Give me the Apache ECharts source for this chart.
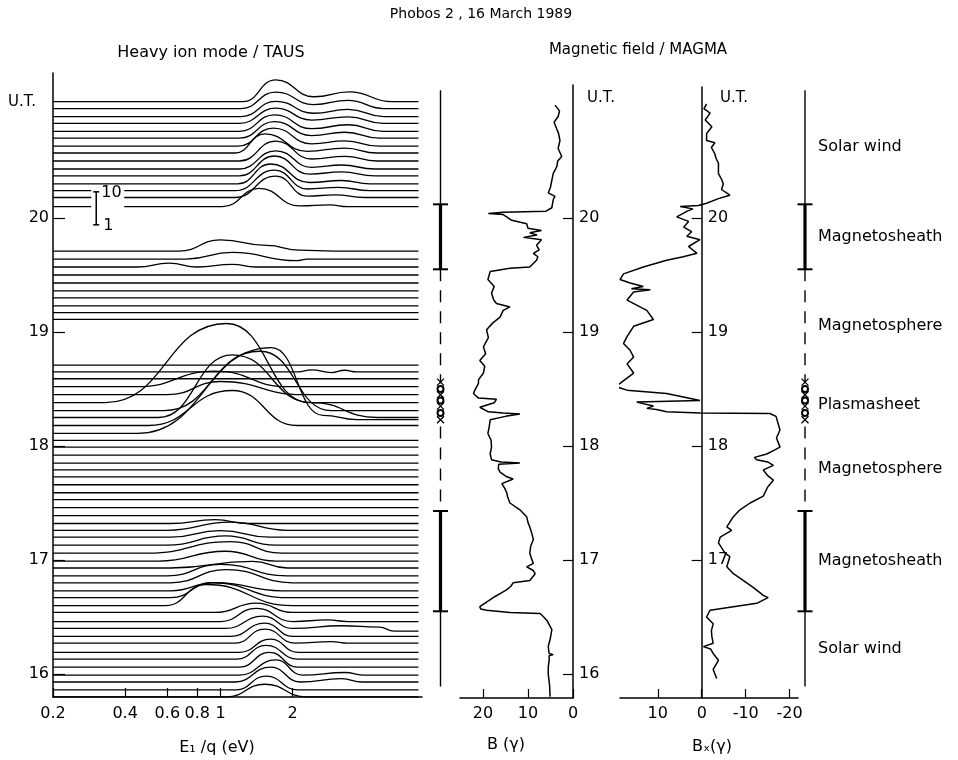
<!DOCTYPE html>
<html><head><meta charset="utf-8">
<script src="https://cdn.jsdelivr.net/npm/echarts@6/dist/echarts.min.js"></script>
<style>html,body{margin:0;padding:0;background:#fff}#c{width:958px;height:760px}</style>
</head><body><div id="c"></div>
<script>
const FONT = 'DejaVu Sans';

// ---------------- DATA ----------------
// Heavy ion spectra (TAUS): baseline time (UT hours) of each stacked trace
const ionTimes = [15.80, 15.86, 15.93, 15.99, 16.06, 16.13, 16.19, 16.27, 16.33, 16.40, 16.46, 16.54, 16.60, 16.67, 16.73, 16.80, 16.86, 16.93, 16.99, 17.06, 17.13, 17.20, 17.26, 17.32, 17.39, 17.46, 17.53, 17.59, 17.66, 17.73, 17.79, 17.85, 17.92, 17.99, 18.05, 18.11, 18.18, 18.25, 18.31, 18.38, 18.45, 18.52, 18.59, 18.65, 18.71,
  19.11, 19.17, 19.23, 19.30, 19.36, 19.43, 19.50, 19.57, 19.64, 19.71,
  20.10, 20.18, 20.24, 20.30, 20.37, 20.43, 20.50, 20.57, 20.63, 20.70, 20.76, 20.83, 20.89, 20.96, 21.02];
// per trace: [energy (eV), count height in decades above baseline]; empty = flat
const ionSpectra = [
  [[1.06,0],[1.53,0.38],[2.28,0]],
  [[1.16,0],[1.55,0.42],[2.1,0]],
  [[1.15,0],[1.62,0.45],[2.15,0],[3.2,0.1],[3.9,0]],
  [[1.2,0],[1.7,0.46],[2.2,0],[3.3,0.08],[4.0,0]],
  [[1.2,0],[1.6,0.45],[2.1,0]],
  [[1.17,0],[1.55,0.42],[2.1,0]],
  [[1.2,0],[1.62,0.4],[2.1,0]],
  [[1.15,0],[1.53,0.43],[2.05,0],[2.9,0.05],[3.4,0]],
  [[1.1,0],[1.53,0.4],[2.0,0]],
  [[1.05,0],[1.5,0.37],[2.0,0],[3.2,0.08],[4.6,0.04],[5.3,-0.08]],
  [[1.0,0],[1.41,0.4],[2.0,0],[2.8,0.05],[3.4,0]],
  [[0.95,0],[1.41,0.28],[2.0,0]],
  [[0.59,0],[0.87,0.64],[2.0,0]],
  [[0.62,0],[0.92,0.45],[1.9,0]],
  [[0.62,0],[0.95,0.25],[1.8,0]],
  [[0.62,0],[1.06,0.4],[2.0,0]],
  [[0.6,0],[1.0,0.35],[1.9,0]],
  [[0.62,0],[1.36,0.2],[1.9,0]],
  [[0.55,0],[1.05,0.3],[1.7,0]],
  [[0.5,0],[1.1,0.35],[1.8,0]],
  [[0.6,0],[1.05,0.28],[1.7,0]],
  [[0.62,0],[1.0,0.2],[1.6,0]],
  [[0.6,0],[1.1,0.25],[1.9,0]],
  [[0.62,0],[0.95,0.12],[1.3,0]],
  [], [], [], [], [], [], [], [], [], [], [],
  [[0.45,0],[1.63,2.6],[2.68,0.55],[3.7,0.42]],
  [[0.5,0],[1.12,1.06],[2.08,0]],
  [[0.55,0],[1.12,1.9],[2.4,0.45],[4.5,0]],
  [[0.58,0],[1.46,1.8],[2.9,0]],
  [[0.33,0],[1.06,2.4],[2.36,0]],
  [[0.6,0],[1.0,0.4],[2.2,0]],
  [[0.45,0],[0.95,0.47],[1.9,0]],
  [],
  [[2.1,0],[2.4,0.06],[2.9,-0.02],[3.3,0.05],[3.7,0]],
  [],
  [], [], [], [], [], [], [],
  [[0.45,0],[0.61,0.12],[0.8,0],[1.12,0.08],[1.4,0]],
  [[0.72,0],[1.12,0.2],[2.08,-0.05],[2.3,0]],
  [[0.67,0],[1.0,0.34],[1.56,0.17],[2.14,0.03],[3.0,0]],
  [[1.02,0],[1.45,0.55],[2.14,0.02],[2.86,0.05],[3.4,0]],
  [[1.15,0],[1.7,0.65],[2.3,0.04],[3.0,0.08],[4.0,0]],
  [[1.15,0],[1.68,0.62],[2.3,0.05],[3.1,0.1],[4.2,0]],
  [[1.18,0],[1.62,0.6],[2.35,0.04],[3.2,0.1],[4.2,0]],
  [[1.2,0],[1.68,0.6],[2.35,0.05],[3.2,0.12],[4.4,0]],
  [[1.2,0],[1.7,0.55],[2.4,0.05],[3.2,0.12],[4.4,0]],
  [[1.2,0],[1.7,0.6],[2.4,0.06],[3.3,0.14],[4.5,0]],
  [[1.15,0],[1.53,0.58],[2.3,0.05],[3.3,0.15],[4.5,0]],
  [[1.18,0],[1.66,0.55],[2.4,0.07],[3.3,0.16],[4.6,0]],
  [[1.2,0],[1.68,0.5],[2.4,0.08],[3.3,0.18],[4.6,0]],
  [[1.2,0],[1.68,0.5],[2.4,0.08],[3.4,0.2],[4.8,0]],
  [[1.2,0],[1.7,0.46],[2.4,0.1],[3.4,0.2],[4.8,0]],
  [[1.22,0],[1.7,0.46],[2.45,0.1],[3.4,0.22],[4.8,0]],
  [[1.22,0],[1.7,0.5],[2.45,0.12],[3.4,0.25],[4.8,0]],
  [[1.24,0],[1.7,0.66],[2.45,0.15],[3.45,0.3],[5.2,0]]
];
const ionTraceRange = [0.2, 6.7];          // energy span of each trace
const ionAxisRange = [0.2, 6.93];
const ionTickValues = [0.2, 0.4, 0.6, 0.8, 1, 2];
const ionTickLabels = ['0.2', '0.4', '0.6', '0.8', '1', '2'];
const scaleBar = {energy: 0.303, base: 19.94, decades: 1, top: '10', bottom: '1'};

const utTicks = [16, 17, 18, 19, 20];
const bxUtTicks = [17, 18, 19, 20];

// Magnetic field magnitude B (gamma) vs UT
const bTimes = [20.99,20.94,20.89,20.84,20.80,20.74,20.68,20.61,20.54,20.50,20.45,20.39,20.33,20.27,20.22,20.19,20.16,20.09,20.06,20.05,20.04,20.035,20.03,19.98,19.95,19.91,19.89,19.87,19.85,19.83,19.81,19.76,19.72,19.69,19.66,19.63,19.57,19.56,19.53,19.46,19.40,19.34,19.28,19.25,19.22,19.19,19.13,19.08,19.02,18.95,18.87,18.81,18.75,18.70,18.64,18.58,18.55,18.49,18.46,18.42,18.41,18.38,18.34,18.30,18.29,18.28,18.26,18.23,18.17,18.11,18.05,17.99,17.93,17.88,17.86,17.85,17.84,17.80,17.77,17.73,17.71,17.67,17.63,17.59,17.55,17.50,17.44,17.38,17.33,17.29,17.24,17.18,17.12,17.06,17.01,16.97,16.94,16.91,16.88,16.82,16.80,16.77,16.74,16.71,16.68,16.63,16.59,16.57,16.56,16.54,16.53,16.50,16.47,16.39,16.32,16.24,16.18,16.17,16.16,16.12,16.06,16.00,15.90,15.80];
const bValues = [4.0,3.0,3.3,4.2,3.8,3.2,2.9,3.3,2.5,3.4,3.6,4.4,4.7,5.0,5.5,4.0,4.4,4.7,6.0,15.5,18.8,19.2,15.5,13.6,10.3,10.0,7.0,9.6,8.0,11.0,7.0,8.1,7.5,8.8,7.8,8.1,9.6,14.0,18.4,18.9,17.5,18.1,17.6,17.0,14.0,15.5,16.2,17.8,19.2,18.8,19.9,19.4,20.7,19.6,19.9,21.0,21.0,21.8,22.1,21.0,17.0,17.5,20.7,18.8,15.5,11.8,15.0,18.4,18.6,18.9,18.2,18.1,18.4,18.1,16.0,11.8,16.5,16.6,16.2,14.7,13.3,15.8,15.2,14.7,14.5,14.0,11.8,10.3,10.0,9.6,9.2,8.8,9.4,9.6,9.2,8.8,10.3,8.9,8.4,9.6,13.3,13.8,14.7,16.0,17.3,19.2,20.7,20.5,19.2,14.0,7.3,6.5,5.8,4.7,5.0,5.5,5.3,4.4,5.3,5.3,5.5,5.5,5.2,5.1];

// Magnetic field component Bx (gamma) vs UT
const bxTimes = [21.00,20.96,20.92,20.86,20.80,20.74,20.68,20.66,20.62,20.57,20.52,20.48,20.39,20.34,20.30,20.25,20.20,20.17,20.13,20.11,20.10,20.08,20.06,20.01,19.97,19.92,19.88,19.84,19.81,19.75,19.69,19.66,19.63,19.57,19.51,19.46,19.43,19.40,19.38,19.37,19.35,19.28,19.19,19.11,19.05,18.96,18.90,18.84,18.78,18.72,18.64,18.55,18.52,18.49,18.46,18.40,18.385,18.35,18.33,18.32,18.30,18.29,18.285,18.26,18.14,18.07,17.99,17.96,17.93,17.90,17.88,17.86,17.83,17.79,17.74,17.70,17.64,17.56,17.50,17.44,17.38,17.29,17.26,17.20,17.15,17.06,17.03,16.94,16.88,16.82,16.76,16.69,16.67,16.62,16.59,16.56,16.50,16.44,16.38,16.33,16.27,16.24,16.22,16.18,16.12,16.04,15.96];
const bxValues = [-1.1,-0.5,-1.9,-0.8,-2.3,-1.1,-1.1,-3.0,-2.2,-2.9,-3.3,-3.8,-3.8,-4.5,-4.9,-4.5,-6.4,-3.8,-1.1,0.8,4.9,2.0,3.3,5.7,3.0,4.1,2.3,3.4,0.4,3.0,1.1,4.2,8.0,13.3,17.8,18.6,16.3,13.3,16.0,11.7,15.5,17.0,12.5,11.0,15.5,17.0,17.8,16.3,15.5,17.0,15.5,18.6,19.5,17.0,8.0,0.4,14.8,11.0,12.5,10.3,8.0,0.4,-15.5,-16.9,-17.8,-17.0,-17.8,-16.3,-14.8,-12.0,-12.5,-15.0,-16.3,-14.0,-15.0,-16.3,-15.0,-14.0,-11.0,-8.7,-7.2,-5.7,-6.8,-4.2,-3.8,-5.3,-6.4,-5.7,-7.2,-9.5,-11.7,-14.0,-15.1,-12.5,-7.2,-1.9,-1.1,-2.6,-2.2,-2.3,-2.6,-0.4,-2.0,-2.6,-3.8,-2.6,-3.4];
const bTicks = [20, 10, 0];
const bxTicks = [10, 0, -10, -20];

// Plasma regions along the time axis
const regionBounds = [21.12, 20.12, 19.55, 18.55, 18.17, 17.43, 16.55, 15.89];
const regionNames = ['Solar wind', 'Magnetosheath', 'Magnetosphere', 'Plasmasheet', 'Magnetosphere', 'Magnetosheath', 'Solar wind'];
const regionKinds = ['thin', 'thick', 'dashed', 'markers', 'dashed', 'thick', 'thin'];
const plasmaCrosses = [18.56, 18.45, 18.35, 18.23];
const plasmaCircles = [18.50, 18.40, 18.29];

// ---------------- LAYOUT ----------------
const Y20 = 218, PX_PER_HOUR = 114;
const tAt = y => 20 - (y - Y20) / PX_PER_HOUR;
const decadeToHours = 33 / PX_PER_HOUR;   // one decade of counts (scale bar height)
const black = '#000';
const lab = {color: black, fontFamily: FONT, fontSize: 16};
const aLine = {show: true, onZero: false, lineStyle: {color: black, width: 1.5}};
const lg = Math.log10;

const grid = [
  {left: 53, top: 73, width: 369, height: 624},
  {left: 460, top: 85, width: 113, height: 613},
  {left: 620, top: 87, width: 178, height: 611},
  {left: 430, top: 73, width: 21, height: 624},
  {left: 795, top: 73, width: 20, height: 624}
];

const xAxis = [
  {gridIndex: 0, type: 'value', min: lg(ionAxisRange[0]), max: lg(ionAxisRange[1]), axisLine: aLine,
    axisTick: {inside: true, length: 9, customValues: ionTickValues.map(lg), lineStyle: {color: black, width: 1.2}},
    axisLabel: Object.assign({customValues: ionTickValues.map(lg), margin: 9,
      formatter: v => { let bi = 0; ionTickValues.forEach((t, i) => { if (Math.abs(lg(t) - v) < Math.abs(lg(ionTickValues[bi]) - v)) bi = i; }); return ionTickLabels[bi]; }}, lab),
    splitLine: {show: false}},
  {gridIndex: 1, type: 'value', inverse: true, min: 0, max: 25.1, axisLine: aLine,
    axisTick: {inside: true, length: 9, customValues: bTicks, lineStyle: {color: black, width: 1.2}},
    axisLabel: Object.assign({customValues: bTicks, margin: 8}, lab), splitLine: {show: false}},
  {gridIndex: 2, type: 'value', inverse: true, min: -21.9, max: 18.6, axisLine: aLine,
    axisTick: {inside: true, length: 9, customValues: bxTicks, lineStyle: {color: black, width: 1.2}},
    axisLabel: Object.assign({customValues: bxTicks, margin: 8}, lab), splitLine: {show: false}},
  {gridIndex: 3, type: 'value', min: -1, max: 1, show: false},
  {gridIndex: 4, type: 'value', min: -1, max: 1, show: false}
];

const yAxis = [
  {gridIndex: 0, type: 'value', min: tAt(697), max: tAt(73), position: 'left', axisLine: aLine,
    axisTick: {inside: true, length: 12, customValues: utTicks, lineStyle: {color: black, width: 1.2}},
    axisLabel: Object.assign({customValues: utTicks, margin: 4}, lab), splitLine: {show: false}},
  {gridIndex: 1, type: 'value', min: tAt(698), max: tAt(85), position: 'right', axisLine: aLine,
    axisTick: {inside: true, length: 10, customValues: utTicks, lineStyle: {color: black, width: 1.2}},
    axisLabel: Object.assign({customValues: utTicks, margin: 6}, lab), splitLine: {show: false}},
  {gridIndex: 2, type: 'value', min: tAt(698), max: tAt(87), position: 'right',
    axisLine: {show: true, onZero: true, lineStyle: {color: black, width: 1.5}},
    axisTick: {inside: true, length: 10, customValues: bxUtTicks, lineStyle: {color: black, width: 1.2}},
    axisLabel: {show: false}, splitLine: {show: false}},
  {gridIndex: 3, type: 'value', min: tAt(697), max: tAt(73), show: false},
  {gridIndex: 4, type: 'value', min: tAt(697), max: tAt(73), show: false}
];

const series = [];
// stacked ion spectra
ionTimes.forEach((t, i) => {
  const pts = ionSpectra[i];
  const h0 = pts.length ? pts[0][1] : 0;
  const h1 = pts.length ? pts[pts.length - 1][1] : 0;
  const data = [[lg(ionTraceRange[0]), t + h0 * decadeToHours]];
  pts.forEach(p => data.push([lg(p[0]), t + p[1] * decadeToHours]));
  data.push([lg(ionTraceRange[1]), t + h1 * decadeToHours]);
  series.push({type: 'line', xAxisIndex: 0, yAxisIndex: 0, data, symbol: 'none', smooth: 0.5, smoothMonotone: 'x',
    lineStyle: {color: black, width: 1.3}, silent: true, animation: false, clip: false, z: 2});
});
// count scale bar
series.push({type: 'custom', xAxisIndex: 0, yAxisIndex: 0, z: 10, silent: true, animation: false, clip: false,
  data: [[lg(scaleBar.energy), scaleBar.base, scaleBar.base + scaleBar.decades * decadeToHours]],
  renderItem: (params, api) => {
    const p0 = api.coord([api.value(0), api.value(1)]);
    const p1 = api.coord([api.value(0), api.value(2)]);
    const st = {stroke: black, lineWidth: 1.5};
    return {type: 'group', children: [
      {type: 'rect', shape: {x: p0[0] - 5, y: p1[1] - 5, width: 33, height: p0[1] - p1[1] + 10}, style: {fill: '#fff'}},
      {type: 'line', shape: {x1: p0[0], y1: p0[1], x2: p1[0], y2: p1[1]}, style: st},
      {type: 'line', shape: {x1: p0[0] - 3, y1: p0[1], x2: p0[0] + 3, y2: p0[1]}, style: st},
      {type: 'line', shape: {x1: p1[0] - 3, y1: p1[1], x2: p1[0] + 3, y2: p1[1]}, style: st},
      {type: 'text', style: {text: scaleBar.top, x: p1[0] + 5, y: p1[1] + 1, fill: black, font: '16px ' + FONT, verticalAlign: 'middle'}},
      {type: 'text', style: {text: scaleBar.bottom, x: p0[0] + 7, y: p0[1] + 1, fill: black, font: '16px ' + FONT, verticalAlign: 'middle'}}
    ]};
  }});
// B and Bx traces
series.push({type: 'line', xAxisIndex: 1, yAxisIndex: 1, data: bTimes.map((t, i) => [bValues[i], t]), symbol: 'none',
  lineStyle: {color: black, width: 1.5}, silent: true, animation: false, clip: false});
series.push({type: 'line', xAxisIndex: 2, yAxisIndex: 2, data: bxTimes.map((t, i) => [bxValues[i], t]), symbol: 'none',
  lineStyle: {color: black, width: 1.5}, silent: true, animation: false, clip: false});
// UT labels beside the Bx zero line
series.push({type: 'scatter', xAxisIndex: 2, yAxisIndex: 2, symbolSize: 0, silent: true, animation: false,
  itemStyle: {opacity: 1}, data: bxUtTicks.map(t => ({name: String(t), value: [0, t]})),
  label: {show: true, position: 'right', distance: 6, formatter: p => p.name, color: black, fontFamily: FONT, fontSize: 16}});
// region bars
[3, 4].forEach(g => {
  regionKinds.forEach((k, i) => {
    if (k === 'markers') return;
    series.push({type: 'line', xAxisIndex: g, yAxisIndex: g, data: [[0, regionBounds[i]], [0, regionBounds[i + 1]]], symbol: 'none',
      lineStyle: {color: black, width: k === 'thick' ? 3.2 : 1.4, type: k === 'dashed' ? [12, 9] : 'solid'}, silent: true, animation: false});
  });
  const caps = [];
  for (let j = 1; j < regionKinds.length; j++) {
    if (regionKinds[j - 1] === 'thick' || regionKinds[j] === 'thick') caps.push([0, regionBounds[j]]);
  }
  series.push({type: 'scatter', xAxisIndex: g, yAxisIndex: g, data: caps, symbol: 'rect', symbolSize: [15, 2],
    itemStyle: {color: black, opacity: 1}, silent: true, animation: false});
  series.push({type: 'scatter', xAxisIndex: g, yAxisIndex: g, data: plasmaCrosses.map(t => [0, t]),
    symbol: 'path://M0,0L10,10M10,0L0,10', symbolSize: 7, itemStyle: {color: 'none', borderColor: black, borderWidth: 1.3, opacity: 1}, silent: true, animation: false});
  series.push({type: 'scatter', xAxisIndex: g, yAxisIndex: g, data: plasmaCircles.map(t => [0, t]),
    symbol: 'emptyCircle', symbolSize: 6, itemStyle: {color: black, borderWidth: 1.2, opacity: 1}, silent: true, animation: false});
});
series.push({type: 'scatter', xAxisIndex: 4, yAxisIndex: 4, symbolSize: 0, silent: true, animation: false, itemStyle: {opacity: 1},
  data: regionNames.map((n, i) => ({name: n, value: [0, (regionBounds[i] + regionBounds[i + 1]) / 2]})),
  label: {show: true, position: 'right', distance: 13, formatter: p => p.name, color: black, fontFamily: FONT, fontSize: 16}});

const txt = (text, x, y, size, align) => ({type: 'text', x, y, style: {text, fill: black, font: size + 'px ' + FONT, textAlign: align || 'center', textVerticalAlign: 'middle'}});
const graphic = [
  txt('Phobos 2 , 16 March 1989', 481, 14, 14),
  txt('Heavy ion mode / TAUS', 211, 53, 16),
  txt('Magnetic field / MAGMA', 638, 50, 15),
  txt('U.T.', 8, 102, 15, 'left'),
  txt('U.T.', 587, 98, 15, 'left'),
  txt('U.T.', 720, 98, 15, 'left'),
  txt('E\u2081 /q (eV)', 217, 748, 16),
  txt('B (\u03b3)', 506, 745, 16),
  txt('B\u2093(\u03b3)', 712, 747, 16)
];

const chart = echarts.init(document.getElementById('c'), null, {renderer: 'canvas'});
chart.setOption({animation: false, backgroundColor: '#fff', grid, xAxis, yAxis, series, graphic});
</script></body></html>
